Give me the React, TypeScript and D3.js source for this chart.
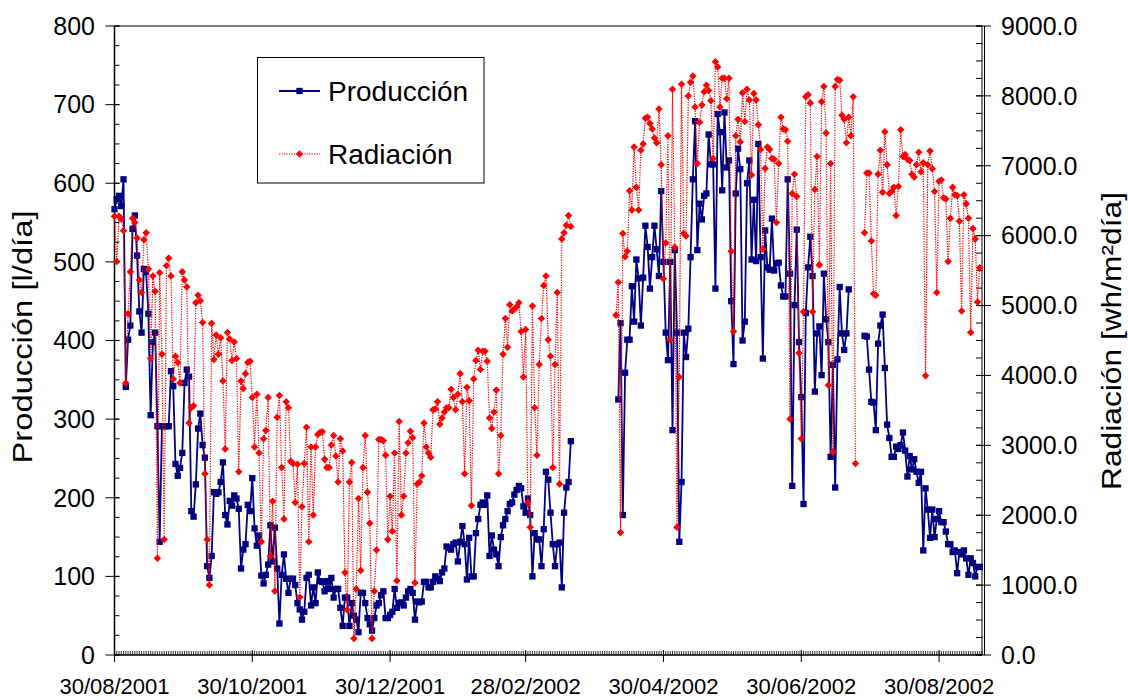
import React from "react"
import * as d3 from "d3"

// first day of the series and end of the date axis
const startDate = "2001-08-30"
const endDate = "2002-09-18"

const tickDates = ["2001-08-30", "2001-10-30", "2001-12-30", "2002-02-28", "2002-04-30", "2002-06-30", "2002-08-30"]

const gap = (n: number) => Array(n).fill(null)

// daily production [l/dia], one value per day from 30/08/2001
const produccion: (number | null)[] = [
  567, 580, 584, 571, 605, 341, 401, 419, 542, 559, 508, 437, 410, 491, 487, 434, 305, 398, 410, 291, 144, 291, 291, 291, 291, 361, 342, 243, 228, 238, 257, 346, 363, 354, 183, 176, 217, 288, 307, 267, 251, 113, 98, 126, 207, 205,
  207, 220, 245, 178, 166, 196, 190, 203, 199, 186, 110, 134, 141, 191, 183, 225, 161, 139, 152, 101, 91, 102, 115, 165, 119, 162, 110, 40, 102, 128, 97, 79, 97, 97, 89, 66, 58, 45, 55, 98, 102, 63, 86, 66, 105, 94, 93, 81, 94,
  84, 98, 73, 84, 84, 60, 37, 73, 73, 37, 66, 50, 45, 29, 79, 79, 66, 47, 39, 31, 47, 63, 66, 76, 81, 47, 47, 51, 55, 84, 60, 66, 67, 63, 73, 81, 84, 79, 45, 68, 67, 68, 93, 93, 86, 86, 93, 100, 97,
  94, 105, 110, 138, 136, 134, 141, 143, 119, 144, 164, 141, 96, 149, 100, 100, 155, 173, 191, 194, 191, 203, 126, 152, 134, 128, 113, 150, 165, 173, 183, 192, 194, 204, 210, 215, 212, 189, 181, 199, 178, 100, 155, 147, 147, 113, 160, 233,
  223, 181, 141, 113, 141, 143, 86, 181, 213, 220, 272, ...gap(20), 325, 422, 178, 359, 401, 401, 469, 424, 503, 479, 419, 480, 546, 519, 466, 506, 546, 516,
  482, 590, 500, 410, 375, 500, 286, 515, 410, 144, 220, 410, 379, 415, 506, 605, 679, 515, 574, 554, 584, 587, 662, 624, 624, 466, 688, 665, 591, 690, 620, 629, 450, 370, 587, 644, 618, 400, 424, 600, 629, 503, 579, 501, 650, 506, 377, 540,
  493, 490, 555, 489, 498, 499, 470, 456, 456, 605, 485, 215, 445, 541, 398, 328, 192, 435, 493, 532, 482, 335, 409, 418, 356, 485, 427, 398, 252, 369, 213, 376, 468, 409, 388, 409, 465, ...gap(6), 406, 405, 363, 322, 321, 286,
  396, 419, 433, 365, 293, 276, 252, 252, 265, 262, 267, 283, 260, 227, 253, 236, 249, 233, 219, 233, 133, 212, 185, 149, 185, 150, 173, 183, 169, 169, 157, 141, 141, 131, 133, 104, 131, 128, 133, 123, 102, 123, 117, 100, 112, 112
]

// daily radiation [wh/m2dia]
const radiacion: (number | null)[] = [
  6278, 5630, 6278, 6237, 6072, 3891, 4881, 5482, 6249, 6190, 5966, 5365, 5188, 5942, 6042, 5524, 4244, 5423, 5205, 1385, 5471, 4303, 1651, 5571, 5677, 5423, 3950, 4274, 4185, 3891, 5482, 5365, 5264, 3319, 3537, 3566, 5040, 5146, 5070, 4757, 2594, 1651, 1002, 4745, 4227, 4580,
  4303, 4539, 3920, 2948, 4616, 4521, 4215, 4480, 4244, 2623, 3920, 3814, 4026, 4185, 4203, 3684, 2977, 3732, 2889, 1621, 3095, 3213, 3684, 1415, 2199, 914, 3401, 3714, 2682, 1945, 3625, 3537, 2771, 2741, 2181, 2729, 825, 2122, 2741, 3260, 1621, 2977, 2004, 2977, 3154, 3183, 3195, 2800, 2682,
  2682, 3006, 3142, 2847, 2476, 3095, 2918, 1179, 648, 2476, 2753, 236, 943, 2240, 1208, 2682, 3142, 2328, 1886, 236, 914, 1503, 3083, 3083, 3065, 2859, 1651, 2270, 1769, 2889, 1061, 3342, 2004, 2270, 2889, 3036, 3201, 3107, 1032, 2446, 2476, 2564, 3319, 2977, 2889, 2830, 3508, 3519, 3625,
  3301, 3390, 3478, 3537, 3537, 3802, 3684, 3508, 3732, 4026, 3625, 2594, 3832, 3637, 2140, 3950, 4215, 4362, 4085, 4345, 4345, 4203, 3390, 3242, 3478, 3790, 2594, 3142, 4303, 4816, 4404, 5011, 4922, 4952, 4981, 5040, 4628, 3979, 4657, 2181, 1827, 4993, 3537, 2859, 4156, 4816, 5288, 5424,
  4510, 4274, 2682, 4156, 5188, 2446, 5954, 6042, 6149, 6290, 6131, ...gap(19), 4863, 5335, 1751, 6031, 5700, 5777, 6644, 6367, 7269, 6691, 6367, 7222, 7310, 7681, 7693, 7605, 7528, 7398, 7328,
  7811, 7015, 5382, 5895, 7428, 4510, 8094, 5836, 1827, 3979, 8165, 6031, 5995, 7999, 8194, 8283, 7841, 7033, 7622, 7870, 8058, 8153, 8076, 7929, 7104, 8489, 8412, 7841, 8253, 8253, 7958, 8253, 5777, 4628, 7428, 7664, 7339, 8046, 7634, 8094, 7941, 6868, 8035, 7941, 7587, 7233, 5807, 6962,
  7269, 7233, 7104, 7092, 6190, 7033, 7693, 7528, 7516, 7351, 3378, 6602, 6879, 6561, 4321, 3095, 4911, 7988, 8017, 7899, 4911, 6661, 7133, 5582, 7917, 8135, 7469, 3861, 7033, 2906, 8135, 8235, 8224, 7722, 7664, 7328, 7693, 7428, 7988, 2741, ...gap(3), 6042, 6897, 6897, 5924, 5170, 5146,
  6880, 7222, 6620, 7487, 7015, 6602, 6632, 6691, 6290, 6703, 7516, 7133, 7162, 7092, 7074, 6879, 6838, 7015, 7192, 6915, 7045, 3997, 7015, 7210, 6956, 6632, 5188, 6779, 6797, 6544, 6526, 5630, 6249, 6691, 6585, 6573, 6208, 4922, 6585, 6455, 6249, 4616, 6102, 5954, 5052, 5541
]

const leftTicks = d3.range(0, 801, 100)
const rightTicks = d3.range(0, 9001, 1000)

const font = "'Liberation Sans', Arial, sans-serif"
const blue = "#000080"
const red = "#FF0000"

const App = () => {
  const left = 114.5, right = 982, top = 26, bottom = 655
  const parse = d3.utcParse("%Y-%m-%d")
  const t0 = parse(startDate) as Date
  const t1 = parse(endDate) as Date
  const fmt = d3.utcFormat("%d/%m/%Y")

  const x = d3.scaleUtc().domain([t0, t1]).range([left, right])
  const yL = d3.scaleLinear().domain([0, 800]).range([bottom, top])
  const yR = d3.scaleLinear().domain([0, 9000]).range([bottom, top])

  const days = produccion.map((_, i) => d3.utcDay.offset(t0, i))
  const minorDays = d3.utcDay.range(t0, d3.utcDay.offset(t1, 1))
  const majors = tickDates.map(s => parse(s) as Date)

  const lineP = d3.line<number | null>()
    .defined(d => d != null)
    .x((_, i) => x(days[i]))
    .y(d => yL(d as number))
  const lineR = d3.line<number | null>()
    .defined(d => d != null)
    .x((_, i) => x(days[i]))
    .y(d => yR(d as number))

  const square = d3.symbol(d3.symbolSquare, 40)()
  const diamond = d3.symbol(d3.symbolDiamond2, 36)()

  return (
    <svg width={1128} height={700} style={{ position: "absolute", left: 0, top: 0, background: "#fff" }} fontFamily={font}>
      <rect x={0} y={0} width={1128} height={700} fill="#fff" />

      {/* plot frame */}
      <line x1={left} x2={right} y1={top} y2={top} stroke="#000" />
      <line x1={right} x2={right} y1={top} y2={bottom} stroke="#000" />
      <line x1={right + 2.5} x2={right + 2.5} y1={top} y2={bottom} stroke="#000" />

      {/* x axis */}
      {minorDays.map((d, i) => (
        <line key={"xm" + i} x1={x(d)} x2={x(d)} y1={bottom - 4} y2={bottom} stroke="#000" strokeWidth={0.8} />
      ))}
      {majors.map((d, i) => (
        <g key={"xt" + i}>
          <line x1={x(d)} x2={x(d)} y1={bottom - 5} y2={bottom + 7} stroke="#000" />
          <text x={x(d)} y={694} textAnchor="middle" fontSize={22}>{fmt(d)}</text>
        </g>
      ))}
      <line x1={left} x2={right} y1={bottom} y2={bottom} stroke="#000" strokeWidth={1.5} />

      {/* left axis */}
      {d3.range(0, 801, 25).map(v => (
        <line key={"lm" + v} x1={left} x2={left + 5} y1={yL(v)} y2={yL(v)} stroke="#000" />
      ))}
      {leftTicks.map(v => (
        <g key={"lt" + v}>
          <line x1={left - 9} x2={left + 5} y1={yL(v)} y2={yL(v)} stroke="#000" />
          <text x={95} y={yL(v)} dy="0.35em" textAnchor="end" fontSize={25}>{v}</text>
        </g>
      ))}
      <line x1={left} x2={left} y1={top} y2={bottom} stroke="#000" strokeWidth={1.5} />

      {/* right axis */}
      {d3.range(0, 9001, 250).map(v => (
        <line key={"rm" + v} x1={right - 6} x2={right} y1={yR(v)} y2={yR(v)} stroke="#000" />
      ))}
      {rightTicks.map(v => (
        <g key={"rt" + v}>
          <line x1={right - 6} x2={right + 9} y1={yR(v)} y2={yR(v)} stroke="#000" />
          <text x={1001} y={yR(v)} dy="0.35em" textAnchor="start" fontSize={25}>{d3.format(".1f")(v)}</text>
        </g>
      ))}

      {/* axis titles */}
      <text transform="translate(32,337) rotate(-90)" textAnchor="middle" fontSize={27}
        textLength={253} lengthAdjust="spacingAndGlyphs">Producción [l/día]</text>
      <text transform="translate(1121,341) rotate(-90)" textAnchor="middle" fontSize={27}
        textLength={298} lengthAdjust="spacingAndGlyphs">Radiación [wh/m²día]</text>

      {/* Produccion series */}
      <path d={lineP(produccion) || ""} fill="none" stroke={blue} strokeWidth={1.8} />
      {produccion.map((v, i) => v == null ? null : (
        <path key={"p" + i} d={square || ""} transform={`translate(${x(days[i])},${yL(v)})`} fill={blue} />
      ))}

      {/* Radiacion series */}
      <path d={lineR(radiacion) || ""} fill="none" stroke={red} strokeWidth={1.2} strokeDasharray="1.3 1.2" />
      {radiacion.map((v, i) => v == null ? null : (
        <path key={"r" + i} d={diamond || ""} transform={`translate(${x(days[i])},${yR(v)})`} fill={red} />
      ))}

      {/* legend */}
      <rect x={257.5} y={57.5} width={226.5} height={125.5} fill="#fff" stroke="#000" />
      <line x1={279} x2={320} y1={91} y2={91} stroke={blue} strokeWidth={1.8} />
      <path d={square || ""} transform="translate(299.5,91)" fill={blue} />
      <text x={328} y={101} fontSize={28}>Producción</text>
      <line x1={279} x2={320} y1={154} y2={154} stroke={red} strokeWidth={1.2} strokeDasharray="1.3 1.2" />
      <path d={diamond || ""} transform="translate(299.5,154)" fill={red} />
      <text x={328} y={164} fontSize={28}>Radiación</text>
    </svg>
  )
}

export default App
